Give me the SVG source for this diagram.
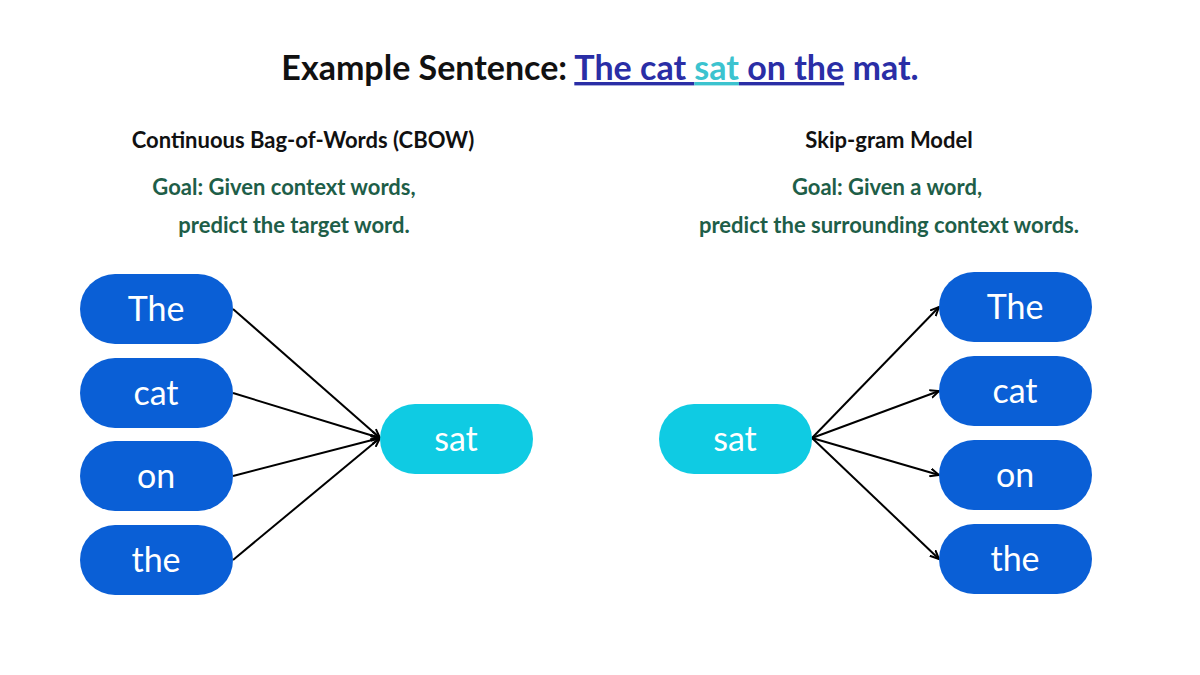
<svg xmlns="http://www.w3.org/2000/svg" width="1200" height="675" viewBox="0 0 1200 675">
<style>
text{font-family:Lato,"Open Sans",sans-serif}
.w{fill:#0a5fd6}
.s{fill:#0fcbe3}
.wt{fill:#fff;font-size:34px;text-anchor:middle}
.h{font-size:22px;font-weight:bold;fill:#111;text-anchor:middle}
.g{font-size:22px;font-weight:bold;fill:#1e5e48;text-anchor:middle}
.c line{stroke:#000;stroke-width:2}
</style>
<defs><marker id="a" markerWidth="10" markerHeight="10" refX="9" refY="5" orient="auto" markerUnits="userSpaceOnUse"><path d="M0,1 L9,5 L0,9" fill="none" stroke="#000" stroke-width="2"/></marker></defs>
<rect width="1200" height="675" fill="#fff"/>
<text x="600" y="80" text-anchor="middle" font-size="34" font-weight="bold" fill="#111">Example Sentence: <tspan fill="#2a2ea6" text-decoration="underline">The cat </tspan><tspan fill="#3cc3cf" text-decoration="underline">sat</tspan><tspan fill="#2a2ea6" text-decoration="underline"> on the</tspan><tspan fill="#2a2ea6"> mat.</tspan></text>
<text class="h" x="303" y="148">Continuous Bag-of-Words (CBOW)</text>
<text class="g" x="284" y="195">Goal: Given context words,</text>
<text class="g" x="294" y="233">predict the target word.</text>
<text class="h" x="889" y="148">Skip-gram Model</text>
<text class="g" x="887" y="195">Goal: Given a word,</text>
<text class="g" x="889" y="233">predict the surrounding context words.</text>
<g class="c">
<line x1="233" y1="309" x2="380" y2="438" marker-end="url(#a)"/>
<line x1="233" y1="393" x2="380" y2="438" marker-end="url(#a)"/>
<line x1="233" y1="476" x2="380" y2="438" marker-end="url(#a)"/>
<line x1="233" y1="560" x2="380" y2="438" marker-end="url(#a)"/>
<line x1="812" y1="438" x2="939" y2="307" marker-end="url(#a)"/>
<line x1="812" y1="438" x2="939" y2="391" marker-end="url(#a)"/>
<line x1="812" y1="438" x2="939" y2="475" marker-end="url(#a)"/>
<line x1="812" y1="438" x2="939" y2="559" marker-end="url(#a)"/>
</g>
<g id="l-the"><rect class="w" x="80" y="274" width="153" height="70" rx="35"/><text class="wt" x="156" y="321">The</text></g>
<g id="l-cat"><rect class="w" x="80" y="358" width="153" height="70" rx="35"/><text class="wt" x="156" y="405">cat</text></g>
<g id="l-on"><rect class="w" x="80" y="441" width="153" height="70" rx="35"/><text class="wt" x="156" y="488">on</text></g>
<g id="l-the2"><rect class="w" x="80" y="525" width="153" height="70" rx="35"/><text class="wt" x="156" y="572">the</text></g>
<g id="l-sat"><rect class="s" x="380" y="404" width="153" height="70" rx="35"/><text class="wt" x="456" y="451">sat</text></g>
<g id="r-sat"><rect class="s" x="659" y="404" width="153" height="70" rx="35"/><text class="wt" x="735" y="451">sat</text></g>
<g id="r-the"><rect class="w" x="939" y="272" width="153" height="70" rx="35"/><text class="wt" x="1015" y="319">The</text></g>
<g id="r-cat"><rect class="w" x="939" y="356" width="153" height="70" rx="35"/><text class="wt" x="1015" y="403">cat</text></g>
<g id="r-on"><rect class="w" x="939" y="440" width="153" height="70" rx="35"/><text class="wt" x="1015" y="487">on</text></g>
<g id="r-the2"><rect class="w" x="939" y="524" width="153" height="70" rx="35"/><text class="wt" x="1015" y="571">the</text></g>
</svg>
